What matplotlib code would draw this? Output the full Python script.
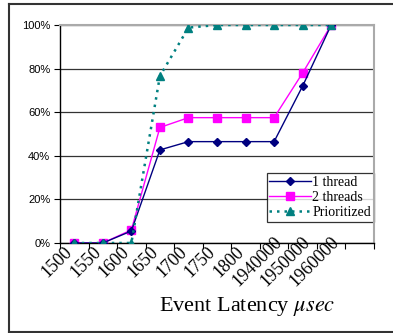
import matplotlib
matplotlib.use("Agg")
import matplotlib.pyplot as plt
from matplotlib.lines import Line2D
from matplotlib.transforms import ScaledTranslation
import numpy as np

categories = ["1500", "1550", "1600", "1650", "1700", "1750", "1800",
              "1940000", "1950000", "1960000"]
one_thread = [0, 0, 5.5, 42.7, 46.5, 46.5, 46.5, 46.5, 72, 100]
two_threads = [0, 0, 6, 53, 57.5, 57.5, 57.5, 57.5, 78, 100]
prioritized = [0, 0, 0, 76.6, 98.8, 100, 100, 100, 100, 100]
y_ticks = [0, 20, 40, 60, 80, 100]

W, H = 393, 333
fig = plt.figure(figsize=(W / 100, H / 100), dpi=100)
plt.rcParams['mathtext.fontset'] = 'stix'

def fx(px):
    return px / W

def fy(py):
    return 1 - py / H

ax = fig.add_axes([fx(60), fy(243), fx(374) - fx(60), fy(25) - fy(243)])

x = np.arange(len(categories))
ax.plot(x, one_thread, color='#000080', lw=1.0, marker='D', ms=4.5,
        label='1 thread', zorder=4)
ax.plot(x, two_threads, color='#FF00FF', lw=1.0, marker='s', ms=5.5,
        label='2 threads', zorder=3)
ax.plot(x, prioritized, color='#008080', lw=1.8, ls=(0, (1, 2)),
        marker='^', ms=6, label='Prioritized', zorder=5)

ax.set_xlim(-0.5, len(categories) + 0.5)
ax.set_ylim(0, 100)

ax.set_yticks(y_ticks)
ax.set_yticklabels([f"{v}%" for v in y_ticks], fontfamily='Liberation Sans',
                   fontsize=8)
ax.tick_params(axis='y', direction='out', length=4, width=0.8, pad=3)
ax.yaxis.grid(True, color='#333333', lw=0.9)
ax.set_axisbelow(True)

ax.set_xticks(x)
ax.set_xticklabels(categories, rotation=45, ha='center', va='center',
                   rotation_mode='anchor', fontfamily='Liberation Serif',
                   fontsize=13)
# centre of each rotated label sits ~19px below and ~17px left of its category
ax.tick_params(axis='x', which='major', length=0, pad=19 * 0.72)
shift = ScaledTranslation(-0.17, 0, fig.dpi_scale_trans)
for lab in ax.get_xticklabels():
    lab.set_transform(lab.get_transform() + shift)
ax.set_xticks(np.arange(-0.5, len(categories) + 1, 1), minor=True)
ax.tick_params(axis='x', which='minor', direction='out', length=4, width=0.8)

for s in ['left', 'bottom']:
    ax.spines[s].set_color('black')
    ax.spines[s].set_linewidth(1.0)
for s in ['right', 'top']:
    ax.spines[s].set_color('#aaaaaa')
    ax.spines[s].set_linewidth(1.5)

leg = ax.legend(loc='upper right', bbox_to_anchor=(1.0, (243 - 173) / 218),
                prop={'family': 'Liberation Serif', 'size': 10},
                frameon=True, fancybox=False, shadow=False, borderpad=0.2,
                handlelength=3.0, handletextpad=0.1, labelspacing=0.15,
                borderaxespad=0)
leg.get_frame().set_edgecolor('black')
leg.get_frame().set_linewidth(0.9)
leg.set_zorder(1)

fig.text(fx(247), fy(311), r"Event Latency $\mu sec$", ha='center',
         va='baseline', fontfamily='Liberation Serif', fontsize=16)

# outer frame (left, top, bottom)
fig.add_artist(Line2D([fx(9), fx(9)], [fy(4), fy(331.5)], color='#333333', lw=1.5))
fig.add_artist(Line2D([fx(9), 1.0], [fy(4), fy(4)], color='#333333', lw=1.5))
fig.add_artist(Line2D([fx(9), 1.0], [fy(331.5), fy(331.5)], color='#333333', lw=1.5))

fig.savefig("out.png", dpi=100)
